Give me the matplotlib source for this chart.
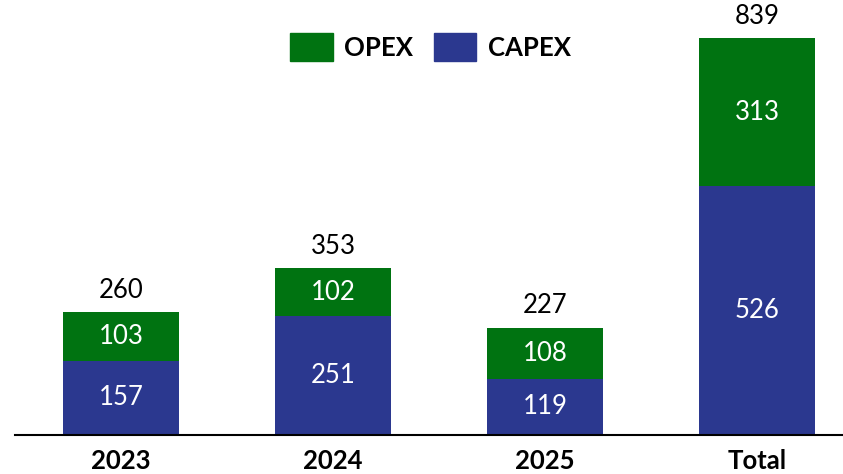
import matplotlib
matplotlib.use("Agg")
from matplotlib import pyplot as plt
from matplotlib.patches import Patch

plt.rcParams['font.family'] = ['Lato', 'DejaVu Sans']

categories = ['2023', '2024', '2025', 'Total']
capex = [157, 251, 119, 526]
opex = [103, 102, 108, 313]
totals = [260, 353, 227, 839]

green = '#007311'
blue = '#2B388F'

fig = plt.figure(figsize=(8.43, 4.74), dpi=100)
ax = fig.add_axes([15 / 843, 39 / 474, 1 - 15 / 843, 435 / 474])

x = range(len(categories))
ax.bar(x, capex, width=0.55, color=blue)
ax.bar(x, opex, width=0.55, bottom=capex, color=green)

for i in x:
    ax.text(i, capex[i] / 2, str(capex[i]), ha='center', va='center',
            color='white', fontsize=18.5)
    ax.text(i, capex[i] + opex[i] / 2, str(opex[i]), ha='center', va='center',
            color='white', fontsize=18.5)
    ax.text(i, totals[i] + 20, str(totals[i]), ha='center', va='bottom',
            color='black', fontsize=18.5)

ax.set_xlim(-0.5, 3.405)
ax.set_ylim(0, 920)
ax.set_xticks(list(x))
ax.set_xticklabels(categories, fontsize=18.5, fontweight='bold')
ax.tick_params(axis='x', length=0, pad=10)
ax.set_yticks([])
for s in ['top', 'right', 'left']:
    ax.spines[s].set_visible(False)
ax.spines['bottom'].set_linewidth(1.5)

handles = [Patch(color=green, label='OPEX'), Patch(color=blue, label='CAPEX')]
ax.legend(handles=handles, loc='center', bbox_to_anchor=(0.502, 0.892),
          ncol=2, frameon=False, prop={'size': 18.5, 'weight': 'bold'},
          handlelength=1.65, handleheight=1.25, columnspacing=0.8,
          handletextpad=0.45, borderpad=0)

fig.savefig('out.png', dpi=100)
